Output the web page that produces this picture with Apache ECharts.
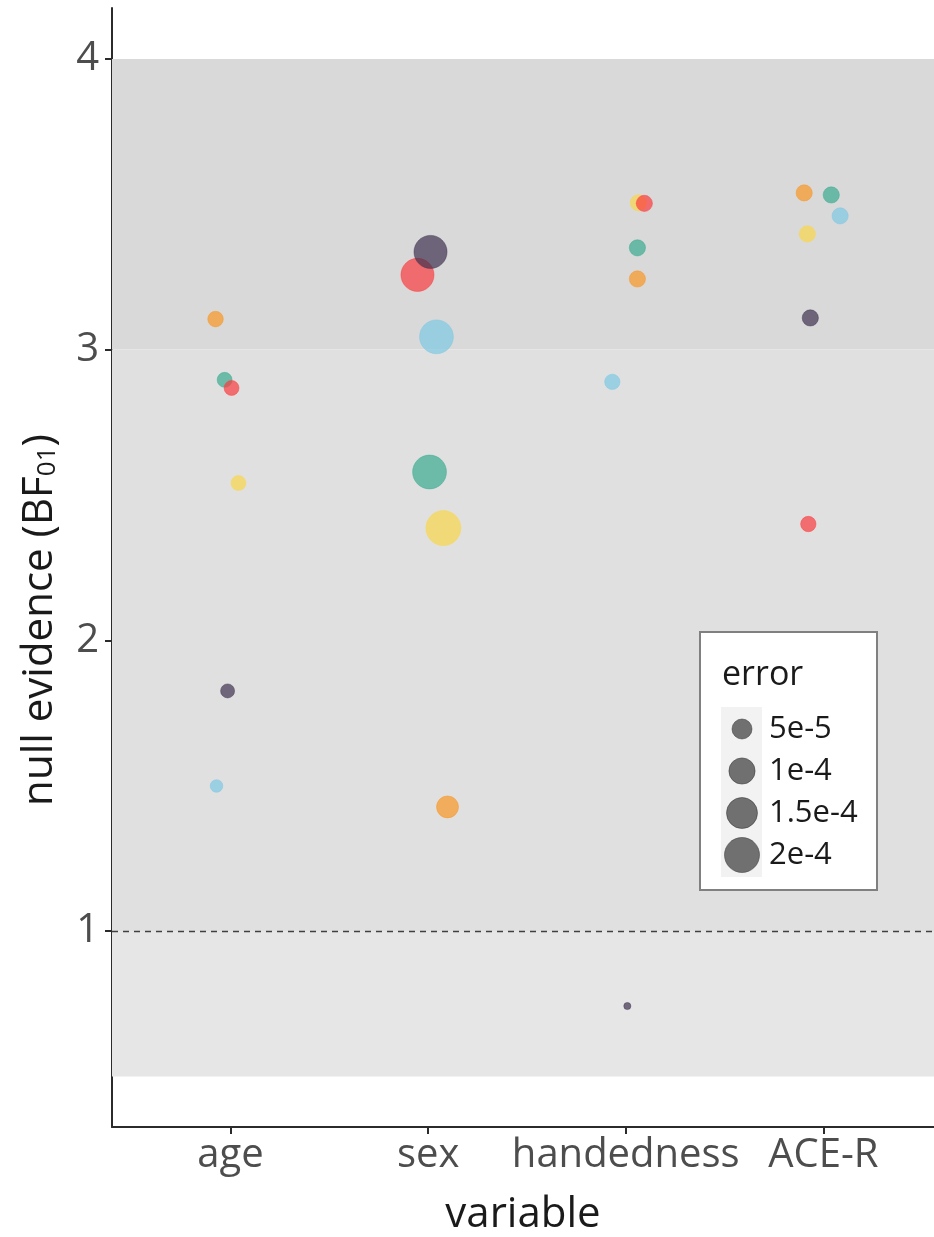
<!DOCTYPE html>
<html>
<head>
<meta charset="utf-8">
<script src="https://cdn.jsdelivr.net/npm/echarts@6/dist/echarts.min.js"></script>
<style>
  html, body { margin: 0; padding: 0; background: #ffffff; }
  #chart { width: 934px; height: 1237px; }
</style>
</head>
<body>
<div id="chart"></div>
<script>
// ---------- data ----------
const categories = ['age', 'sex', 'handedness', 'ACE-R'];
const yTicks = [1, 2, 3, 4];

// BF01 values per colour group (order follows categories)
const tealBF      = [2.896, 2.579, 3.350, 3.532];
const yellowBF    = [2.541, 2.386, 3.505, 3.398];
const orangeBF    = [3.105, 1.427, 3.243, 3.539];
const lightBlueBF = [1.499, 3.044, 2.889, 3.460];
const redBF       = [2.868, 3.257, 3.503, 2.400];
const purpleBF    = [1.826, 3.336, 0.742, 3.109];

// horizontal jitter (in category units)
const tealJitter      = [-0.030, 0.007, 0.059, 0.040];
const yellowJitter    = [0.040, 0.077, 0.064, -0.081];
const orangeJitter    = [-0.076, 0.098, 0.059, -0.097];
const lightBlueJitter = [-0.071, 0.042, -0.068, 0.085];
const redJitter       = [0.005, -0.054, 0.094, -0.076];
const purpleJitter    = [-0.015, 0.012, 0.008, -0.066];

// error values (mapped to point size)
const tealErr      = [2.2e-5, 1.85e-4, 2.8e-5, 2.8e-5];
const yellowErr    = [2.2e-5, 2.0e-4, 2.8e-5, 2.8e-5];
const orangeErr    = [2.5e-5, 6.4e-5, 2.8e-5, 2.8e-5];
const lightBlueErr = [1.3e-5, 1.85e-4, 2.4e-5, 2.8e-5];
const redErr       = [2.2e-5, 1.75e-4, 2.8e-5, 2.4e-5];
const purpleErr    = [1.8e-5, 1.75e-4, 1.0e-6, 2.8e-5];

const legendErrors = [5e-5, 1e-4, 1.5e-4, 2e-4];
const legendLabels = ['5e-5', '1e-4', '1.5e-4', '2e-4'];

// ---------- styles ----------
const FONT = '"Open Sans", "Noto Sans", sans-serif';
const groups = [
  { name: 'teal',      bf: tealBF,      jit: tealJitter,      err: tealErr,      color: '59,170,144' },
  { name: 'yellow',    bf: yellowBF,    jit: yellowJitter,    err: yellowErr,    color: '249,214,74' },
  { name: 'orange',    bf: orangeBF,    jit: orangeJitter,    err: orangeErr,    color: '248,150,36' },
  { name: 'lightblue', bf: lightBlueBF, jit: lightBlueJitter, err: lightBlueErr, color: '126,200,227' },
  { name: 'red',       bf: redBF,       jit: redJitter,       err: redErr,       color: '250,60,62' },
  { name: 'purple',    bf: purpleBF,    jit: purpleJitter,    err: purpleErr,    color: '64,50,80' }
];
function sizeOf(err) { return 5 + 2121 * Math.sqrt(err); }

const chart = echarts.init(document.getElementById('chart'), null, { renderer: 'canvas' });

const series = [{
  type: 'scatter',
  name: 'bands',
  data: [],
  silent: true,
  z: 1,
  markArea: {
    silent: true,
    itemStyle: { opacity: 1 },
    data: [
      [{ yAxis: 3, itemStyle: { color: '#d9d9d9' } }, { yAxis: 4 }],
      [{ yAxis: 1, itemStyle: { color: '#e0e0e0' } }, { yAxis: 3 }],
      [{ yAxis: 0.5, itemStyle: { color: '#e6e6e6' } }, { yAxis: 1 }]
    ]
  },
  markLine: {
    silent: true,
    symbol: 'none',
    label: { show: false },
    lineStyle: { color: '#404040', width: 1.3, type: [6, 5] },
    data: [{ yAxis: 1 }]
  }
}];

groups.forEach((g, gi) => {
  series.push({
    type: 'scatter',
    name: g.name,
    z: 3 + gi,
    data: categories.map((c, j) => [j + 1 + g.jit[j], g.bf[j], g.err[j]]),
    symbolSize: v => sizeOf(v[2]),
    itemStyle: {
      color: 'rgba(' + g.color + ',0.7)',
      borderColor: 'rgba(' + g.color + ',0.45)',
      borderWidth: 1,
      opacity: 1
    },
    emphasis: { disabled: true }
  });
});

// legend graphics
const legendX = 700, legendY = 632;
const keyCx = 742, keyYs = [729, 771, 813, 855];
const legendGraphic = [
  { type: 'rect', shape: { x: legendX, y: legendY, width: 177, height: 258 },
    style: { fill: '#ffffff', stroke: '#808080', lineWidth: 2 }, z: 100 },
  { type: 'text', x: 722, y: 675, z: 101,
    style: { text: 'error', font: '34px ' + FONT, fill: '#1a1a1a', verticalAlign: 'middle', align: 'left' } },
  { type: 'rect', shape: { x: 721, y: 707, width: 41, height: 170 },
    style: { fill: '#f2f2f2' }, z: 101 }
];
legendErrors.forEach((e, i) => {
  legendGraphic.push({
    type: 'circle', z: 102,
    shape: { cx: keyCx, cy: keyYs[i], r: sizeOf(e) / 2 },
    style: { fill: 'rgba(50,50,50,0.68)', stroke: 'rgba(50,50,50,0.5)', lineWidth: 1 }
  });
  legendGraphic.push({
    type: 'text', x: 769, y: keyYs[i], z: 102,
    style: { text: legendLabels[i], font: '31px ' + FONT, fill: '#1a1a1a', verticalAlign: 'middle', align: 'left' }
  });
});
// y-axis title with subscript
legendGraphic.push({
  type: 'text', x: 36, y: 620, rotation: Math.PI / 2, z: 50,
  style: {
    text: '{a|null evidence (BF}{s|01}{a|)}',
    align: 'center', verticalAlign: 'middle',
    rich: {
      a: { fontSize: 42, fontFamily: FONT, fill: '#1a1a1a', color: '#1a1a1a', lineHeight: 50, verticalAlign: 'bottom' },
      s: { fontSize: 26, fontFamily: FONT, fill: '#1a1a1a', color: '#1a1a1a', lineHeight: 18, verticalAlign: 'bottom' }
    }
  }
});

const option = {
  animation: false,
  backgroundColor: '#ffffff',
  grid: { left: 112, right: 0, top: 8, bottom: 110, containLabel: false, outerBoundsMode: 'none' },
  xAxis: {
    type: 'value',
    min: 0.4, max: 4.56,
    name: 'variable',
    nameLocation: 'middle',
    nameGap: 67,
    nameTextStyle: { fontSize: 42, fontFamily: FONT, color: '#1a1a1a' },
    splitLine: { show: false },
    axisLine: { onZero: false, lineStyle: { color: '#2b2b2b', width: 2 } },
    axisTick: { customValues: [1, 2, 3, 4], length: 7, lineStyle: { color: '#2b2b2b', width: 2 } },
    axisLabel: {
      customValues: [1, 2, 3, 4],
      formatter: v => categories[Math.round(v) - 1] || '',
      fontSize: 40, fontFamily: FONT, color: '#4d4d4d', margin: 9
    }
  },
  yAxis: {
    type: 'value',
    min: 0.326, max: 4.175,
    splitLine: { show: false },
    axisLine: { onZero: false, lineStyle: { color: '#2b2b2b', width: 2 } },
    axisTick: { customValues: yTicks, length: 7, lineStyle: { color: '#2b2b2b', width: 2 } },
    axisLabel: {
      customValues: yTicks,
      formatter: v => String(Math.round(v)),
      fontSize: 40, fontFamily: FONT, color: '#4d4d4d', margin: 13
    }
  },
  graphic: legendGraphic,
  series: series
};
chart.setOption(option);
</script>
</body>
</html>
